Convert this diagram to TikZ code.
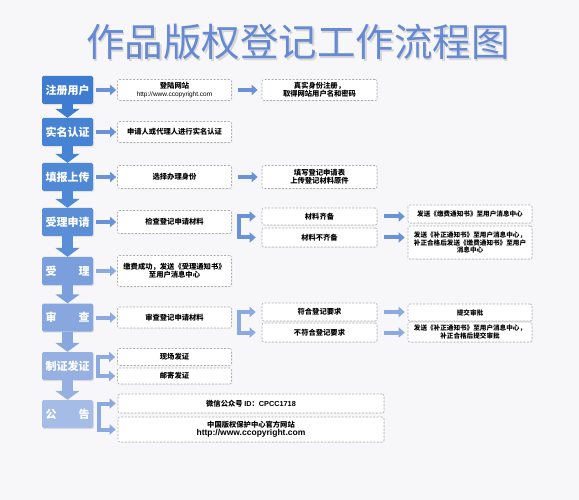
\documentclass[tikz,border=0pt]{standalone}
\usepackage{fontspec}
\setmainfont{Noto Sans CJK SC}
\newfontfamily\lat{Liberation Sans}
\usetikzlibrary{arrows.meta, shadows}

\definecolor{stA}{HTML}{3D7CD1}
\definecolor{stB}{HTML}{4783D4}
\definecolor{stC}{HTML}{4F89D6}
\definecolor{stD}{HTML}{5A8FD8}
\definecolor{stE}{HTML}{7B9EDC}
\definecolor{stF}{HTML}{88A7DE}
\definecolor{stG}{HTML}{95B0E1}
\definecolor{stH}{HTML}{A4BCE6}
\definecolor{arwA}{HTML}{6A92D6}
\definecolor{arwB}{HTML}{8CAADF}
\definecolor{titleblue}{HTML}{6689D3}
\definecolor{paper}{HTML}{F7F7F9}
\definecolor{edgegray}{HTML}{AEAEB3}

\begin{document}
\begin{tikzpicture}[
    x=1pt, y=-1pt,
    stage/.style={fill=#1, text=white, font=\fontsize{11}{12}\selectfont\bfseries,
        minimum width=51pt, minimum height=28pt, inner sep=0pt, rounded corners=1.5pt,
        drop shadow={opacity=0.18, shadow xshift=1pt, shadow yshift=-1.2pt}},
    note/.style={draw=edgegray, dashed, dash pattern=on 2pt off 1.5pt, fill=white,
        rounded corners=2pt, line width=0.6pt, font=\fontsize{7.3}{8.2}\selectfont\bfseries,
        align=center, inner sep=0pt, minimum width=114pt,
        drop shadow={opacity=0.08, shadow xshift=0.8pt, shadow yshift=-0.8pt}},
    wide/.style={note, minimum width=124pt, font=\fontsize{6.6}{7.6}\selectfont\bfseries},
    rarrow/.style={line width=4pt, -{Triangle[length=6pt,width=10pt]}},
    darrow/.style={line width=11pt, -{Triangle[length=9pt,width=24pt]}},
    split/.style={line width=4pt, line join=miter,
        {Triangle[length=6pt,width=10pt]}-{Triangle[length=6pt,width=10pt]}}
]
\useasboundingbox[fill=paper] (0,0) rectangle (579,500);

% Title
\node[text=black!30, opacity=0.45, font=\fontsize{38.5}{41}\selectfont] at (299.5,43.5) {作品版权登记工作流程图};
\node[text=titleblue, font=\fontsize{38.5}{41}\selectfont] (title) at (298,42) {作品版权登记工作流程图};

% Stages
\node[stage=stA] (reg)    at (67.5,90)    {注册用户};
\node[stage=stB] (real)   at (67.5,132)   {实名认证};
\node[stage=stC] (upload) at (67.5,177)   {填报上传};
\node[stage=stD] (acc)    at (67.5,222)   {受理申请};
\node[stage=stE] (accd)   at (67.5,271)   {受\hspace{2em}理};
\node[stage=stF] (rev)    at (67.5,317.5) {审\hspace{2em}查};
\node[stage=stG] (cert)   at (67.5,366)   {制证发证};
\node[stage=stH] (pub)    at (67.5,414)   {公\hspace{2em}告};

\foreach \a/\b/\c in {reg/real/stA, real/upload/stB, upload/acc/stC, acc/accd/stD,
    accd/rev/stE, rev/cert/stF, cert/pub/stG}
    \draw[darrow, \c] (\a.south) -- (\b.north);

% First column
\node[note, minimum height=21pt] (login) at (174.5,90)
    {登陆网站\\{\lat\mdseries\fontsize{6.5}{7}\selectfont http://www.ccopyright.com}};
\node[note, minimum height=21pt] (realname) at (174.5,132) {申请人或代理人进行实名认证};
\node[note, minimum height=23pt] (ident)    at (174.5,177) {选择办理身份};
\node[note, minimum height=23pt] (check)    at (174.5,222) {检查登记申请材料};
\node[note, minimum height=31pt] (paid)     at (174.5,271) {缴费成功，发送《受理通知书》\\至用户消息中心};
\node[note, minimum height=21pt] (revchk)   at (174.5,317.5) {审查登记申请材料};
\node[note, minimum height=17pt] (onsite)   at (174.5,357) {现场发证};
\node[note, minimum height=16pt] (mail)     at (174.5,376) {邮寄发证};
\node[note, minimum width=266pt, minimum height=19pt] (wechat) at (251,403.5)
    {微信公众号 {\lat ID}：{\lat CPCC1718}};
\node[note, minimum width=266pt, minimum height=25pt] (site) at (251,429.5)
    {中国版权保护中心官方网站\\{\lat\fontsize{8.5}{9.5}\selectfont http://www.ccopyright.com}};

% Second column
\node[note, minimum width=115pt, minimum height=21pt] (regok) at (319.5,90) {真实身份注册，\\取得网站用户名和密码};
\node[note, minimum width=115pt, minimum height=23pt] (form)  at (319.5,177) {填写登记申请表\\上传登记材料原件};
\node[note, minimum width=115pt, minimum height=17pt] (matok) at (319.5,216.5) {材料齐备};
\node[note, minimum width=115pt, minimum height=19pt] (matno) at (319.5,237.5) {材料不齐备};
\node[note, minimum width=115pt, minimum height=18pt] (reqok) at (319.5,312) {符合登记要求};
\node[note, minimum width=115pt, minimum height=19pt] (reqno) at (319.5,332.5) {不符合登记要求};

% Third column
\node[wide, minimum height=18pt] (feenote) at (470,214) {发送《缴费通知书》至用户消息中心};
\node[wide, minimum height=33pt] (fixnote) at (470,242.5)
    {发送《补正通知书》至用户消息中心，\\补正合格后发送《缴费通知书》至用户\\消息中心};
\node[wide, minimum height=17pt] (submit) at (470,312.5) {提交审批};
\node[wide, minimum height=20pt] (fixsub) at (470,332) {发送《补正通知书》至用户消息中心，\\补正合格后提交审批};

% Arrows
\draw[rarrow, arwA] ([xshift=3pt]reg.east)    -- ([xshift=-1pt]login.west);
\draw[rarrow, arwA] ([xshift=3pt]real.east)   -- ([xshift=-1pt]realname.west);
\draw[rarrow, arwA] ([xshift=3pt]upload.east) -- ([xshift=-1pt]ident.west);
\draw[rarrow, arwA] ([xshift=3pt]acc.east)    -- ([xshift=-1pt]check.west);
\draw[rarrow, arwB] ([xshift=3pt]accd.east)   -- ([xshift=-1pt]paid.west);
\draw[rarrow, arwB] ([xshift=3pt]rev.east)    -- ([xshift=-1pt]revchk.west);
\draw[split, arwB] ([xshift=-2pt]onsite.west) -- ++(-17,0) |- ([xshift=-2pt]mail.west);
\draw[split, arwB] ([xshift=-2pt]wechat.west) -- ++(-17,0) |- ([xshift=-2pt]site.west);

\draw[rarrow, arwA] ([xshift=6pt]login.east) -- ([xshift=-4pt]regok.west);
\draw[rarrow, arwA] ([xshift=6pt]ident.east) -- ([xshift=-4pt]form.west);
\draw[split, arwA] ([xshift=-6pt]matok.west) -- ++(-17,0) |- ([xshift=-6pt]matno.west);
\draw[split, arwB] ([xshift=-6pt]reqok.west) -- ++(-17,0) |- ([xshift=-6pt]reqno.west);

\draw[rarrow, arwA] ([xshift=7pt]matok.east) -- ([xshift=-3pt]matok.east -| feenote.west);
\draw[rarrow, arwA] ([xshift=7pt]matno.east) -- ([xshift=-3pt]matno.east -| fixnote.west);
\draw[rarrow, arwB] ([xshift=7pt]reqok.east) -- ([xshift=-3pt]reqok.east -| submit.west);
\draw[rarrow, arwB] ([xshift=7pt]reqno.east) -- ([xshift=-3pt]reqno.east -| fixsub.west);
\end{tikzpicture}
\end{document}
